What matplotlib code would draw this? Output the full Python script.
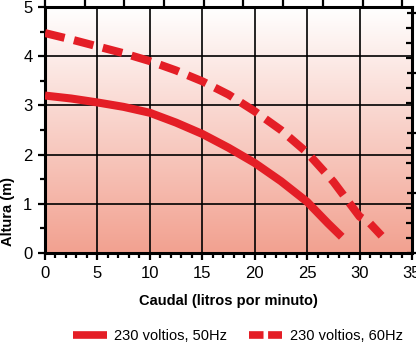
import numpy as np
import matplotlib
matplotlib.use("Agg")
import matplotlib.pyplot as plt
from matplotlib.colors import LinearSegmentedColormap
from matplotlib.lines import Line2D
from matplotlib.ticker import MultipleLocator

plt.rcParams["font.family"] = ["Liberation Sans", "DejaVu Sans"]

# pump curves: flow (L/min) vs head (m)
flow_50 = [0, 2.5, 5, 7.5, 10, 12.5, 15, 17.5, 20, 22.5, 25, 27, 28.3]
head_50 = [3.2, 3.14, 3.06, 2.97, 2.85, 2.65, 2.42, 2.14, 1.83, 1.46, 1.04, 0.6, 0.33]
flow_60 = [0, 2.5, 5, 7.5, 10, 12.5, 15, 17.5, 20, 22.5, 25, 27.5, 30, 31, 32.1]
head_60 = [4.47, 4.34, 4.2, 4.06, 3.9, 3.71, 3.49, 3.22, 2.88, 2.5, 2.04, 1.45, 0.74, 0.6, 0.35]
labels = ["230 voltios, 50Hz", "230 voltios, 60Hz"]

RED = "#e41e26"
L_PER_GAL = 3.785
M_PER_FT = 0.3048

fig = plt.figure(figsize=(4.16, 3.48), dpi=100)
ax = fig.add_axes([45 / 416, 1 - 253 / 348, 367 / 416, 246 / 348])

# background: white at top fading to salmon at the bottom
cmap = LinearSegmentedColormap.from_list("bg", ["#f2a190", "#ffffff"])
grad = np.linspace(0, 1, 256).reshape(-1, 1)
ax.imshow(grad, cmap=cmap, origin="lower", extent=[0, 35, 0, 5], aspect="auto", zorder=0)

ax.set_xlim(0, 35)
ax.set_ylim(0, 5)
ax.xaxis.set_major_locator(MultipleLocator(5))
ax.xaxis.set_minor_locator(MultipleLocator(1))
ax.yaxis.set_major_locator(MultipleLocator(1))
ax.yaxis.set_minor_locator(MultipleLocator(0.5))
ax.grid(True, which="major", color="black", lw=1.2, zorder=1)

ax.plot(flow_50, head_50, color=RED, lw=5.8, solid_capstyle="butt", zorder=3)
ax.plot(flow_60, head_60, color=RED, lw=5.8, dashes=(2.5, 1.2), dash_capstyle="butt", zorder=3)

for s in ["left", "bottom", "top", "right"]:
    ax.spines[s].set_linewidth(2.2)
ax.tick_params(which="major", direction="out", length=5, width=1.6, labelsize=12, pad=4)
ax.tick_params(which="minor", direction="out", length=3.5, width=1.6)
ax.tick_params(top=False, right=False)

# gallons per minute on top, feet on the right (ticks only)
top = ax.secondary_xaxis("top", functions=(lambda x: x / L_PER_GAL, lambda g: g * L_PER_GAL))
top.xaxis.set_major_locator(MultipleLocator(1))
top.tick_params(direction="out", length=5, width=1.6, labeltop=False)
right = ax.secondary_yaxis("right", functions=(lambda m: m / M_PER_FT, lambda f: f * M_PER_FT))
right.yaxis.set_major_locator(MultipleLocator(4))
right.yaxis.set_minor_locator(MultipleLocator(1))
right.tick_params(which="major", direction="inout", length=7, width=1.6, labelright=False)
right.tick_params(which="minor", direction="in", length=4, width=1.6)

ax.set_xlabel("Caudal (litros por minuto)", fontsize=10.5, fontweight="bold", labelpad=10)
ax.set_ylabel("Altura (m)", fontsize=10.5, fontweight="bold")
ax.yaxis.set_label_coords(-0.082, 0.167)

handles = [Line2D([], [], color=RED, lw=5.5, solid_capstyle="butt"),
           Line2D([], [], color=RED, lw=5.5, dashes=(1.9, 0.6), dash_capstyle="butt")]
fig.legend(handles, labels, loc="center", bbox_to_anchor=(238 / 416, 1 - 336 / 348),
           ncol=2, frameon=False, fontsize=10.5, handlelength=2.3, handletextpad=0.5,
           columnspacing=1.5)

fig.savefig("out.png", dpi=100)
